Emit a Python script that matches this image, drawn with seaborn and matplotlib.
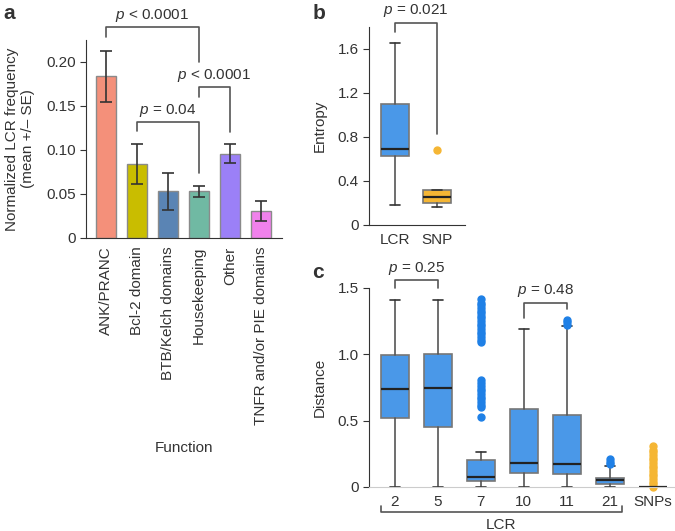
import numpy as np
import matplotlib
matplotlib.use("Agg")
import matplotlib.pyplot as plt
import seaborn as sns

# ---- data ----
functions = ["ANK/PRANC", "Bcl-2 domain", "BTB/Kelch domains",
             "Housekeeping", "Other", "TNFR and/or PIE domains"]
freq = [0.184, 0.084, 0.053, 0.053, 0.096, 0.031]
freq_se = [0.029, 0.023, 0.021, 0.006, 0.011, 0.0115]
bar_colors = ["#F4907A", "#C9BD00", "#5A84B4", "#70B9A3", "#9B80F7", "#F081EC"]

entropy_groups = ["LCR", "SNP"]
entropy_whislo = [0.18, 0.165]
entropy_q1 = [0.627, 0.20]
entropy_med = [0.69, 0.255]
entropy_q3 = [1.10, 0.32]
entropy_whishi = [1.655, 0.32]
entropy_fliers = [[], [0.685]]

dist_groups = ["2", "5", "7", "10", "11", "21", "SNPs"]
dist_whislo = [0, 0, 0, 0, 0, 0, 0]
dist_q1 = [0.52, 0.45, 0.045, 0.105, 0.095, 0.02, 0]
dist_med = [0.74, 0.745, 0.078, 0.18, 0.17, 0.05, 0]
dist_q3 = [0.995, 1.0, 0.20, 0.59, 0.545, 0.07, 0]
dist_whishi = [1.41, 1.41, 0.265, 1.19, 1.21, 0.16, 0]
dist_fliers = [
    [],
    [],
    [0.53, 0.60, 0.62, 0.64, 0.66, 0.68, 0.70, 0.72, 0.74, 0.76, 0.78, 0.81,
     1.09, 1.11, 1.13, 1.15, 1.17, 1.19, 1.21, 1.23, 1.25, 1.27, 1.29,
     1.31, 1.33, 1.35, 1.37, 1.39, 1.42],
    [],
    [1.22, 1.24, 1.26],
    [0.17, 0.19, 0.21],
    [0.0, 0.02, 0.04, 0.06, 0.08, 0.10, 0.12, 0.14, 0.16, 0.18, 0.20,
     0.22, 0.24, 0.26, 0.28, 0.31],
]

BLUE = "#4A98E8"
BLUE_DOT = "#1F80E6"
YELLOW = "#F5B634"
LINE = "#555555"

sns.set_style("ticks")
plt.rcParams["font.family"] = ["Liberation Sans", "DejaVu Sans"]
plt.rcParams["mathtext.fontset"] = "custom"
plt.rcParams["mathtext.it"] = "Liberation Sans:italic"
plt.rcParams["mathtext.rm"] = "Liberation Sans"
plt.rcParams["font.size"] = 11
plt.rcParams["axes.edgecolor"] = "#333333"
plt.rcParams["xtick.color"] = "#333333"
plt.rcParams["ytick.color"] = "#333333"
plt.rcParams["text.color"] = "#333333"
plt.rcParams["axes.labelcolor"] = "#333333"

fig = plt.figure(figsize=(6.75, 5.31), dpi=100)
ax_a = fig.add_axes([0.1274, 0.5518, 0.2904, 0.3729])
ax_b = fig.add_axes([0.5467, 0.5763, 0.1422, 0.3729])
ax_c = fig.add_axes([0.5467, 0.0829, 0.452, 0.3748])


def bracket(ax, x1, x2, top, y1, y2, label, ty):
    ax.plot([x1, x1, x2, x2], [y1, top, top, y2], color=LINE, lw=1.2,
            clip_on=False)
    ax.text((x1 + x2) / 2, ty, label, ha="center", va="center", fontsize=11,
            clip_on=False)


# ---- a: bar chart ----
sns.barplot(x=functions, y=freq, hue=functions, palette=bar_colors,
            legend=False, width=0.65, edgecolor="#8a8a8a", linewidth=1,
            saturation=1, ax=ax_a)
ax_a.errorbar(range(len(functions)), freq, yerr=freq_se, fmt="none",
              ecolor="#333333", elinewidth=1.2, capsize=4, capthick=1.2)
ax_a.set_xlim(-0.65, 5.68)
ax_a.set_ylim(0, 0.225)
ax_a.set_yticks([0, 0.05, 0.10, 0.15, 0.20])
ax_a.set_yticklabels(["0", "0.05", "0.10", "0.15", "0.20"])
ax_a.tick_params(axis="x", length=0, rotation=90, pad=6)
ax_a.tick_params(axis="y", length=4)
ax_a.set_ylabel("Normalized LCR frequency\n(mean +/\u2013 SE)")
ax_a.yaxis.set_label_coords(-0.26, 0.5)
ax_a.set_xlabel("Function")
ax_a.xaxis.set_label_coords(0.5, -1.06)
ax_a.xaxis.label.set_va("center")
sns.despine(ax=ax_a)
bracket(ax_a, 0, 3, 0.240, 0.228, 0.200, "$p$ < 0.0001", 0.253)
bracket(ax_a, 3, 4, 0.1716, 0.160, 0.120, "$p$ < 0.0001", 0.185)
bracket(ax_a, 1, 3, 0.132, 0.122, 0.074, "$p$ = 0.04", 0.145)


# ---- boxplot helper ----
def boxes(ax, whislo, q1, med, q3, whishi, fliers, colors, dot_colors):
    stats = []
    for i in range(len(med)):
        stats.append(dict(whislo=whislo[i], q1=q1[i], med=med[i], q3=q3[i],
                          whishi=whishi[i], fliers=fliers[i]))
    res = ax.bxp(stats, positions=range(len(med)), widths=0.65,
                 patch_artist=True, showfliers=True,
                 boxprops=dict(edgecolor="#777777", linewidth=1.2),
                 medianprops=dict(color="#222222", linewidth=1.6),
                 whiskerprops=dict(color=LINE, linewidth=1.2),
                 capprops=dict(color="#333333", linewidth=1.2),
                 capwidths=0.23)
    for patch, c in zip(res["boxes"], colors):
        patch.set_facecolor(c)
    for fl, c in zip(res["fliers"], dot_colors):
        fl.set(marker="o", markerfacecolor=c, markeredgecolor=c,
               markersize=5, linestyle="none", clip_on=False)
    return res


# ---- b: entropy ----
boxes(ax_b, entropy_whislo, entropy_q1, entropy_med, entropy_q3,
      entropy_whishi, entropy_fliers, [BLUE, YELLOW], [BLUE_DOT, YELLOW])
ax_b.set_xticks(range(len(entropy_groups)))
ax_b.set_xticklabels(entropy_groups)
ax_b.set_xlim(-0.62, 1.67)
ax_b.set_ylim(0, 1.8)
ax_b.set_yticks([0, 0.4, 0.8, 1.2, 1.6])
ax_b.set_yticklabels(["0", "0.4", "0.8", "1.2", "1.6"])
ax_b.tick_params(axis="x", length=0, pad=6)
ax_b.tick_params(axis="y", length=4)
ax_b.set_ylabel("Entropy", labelpad=8)
sns.despine(ax=ax_b)
bracket(ax_b, 0, 1, 1.84, 1.75, 0.83, "$p$ = 0.021", 1.95)

# ---- c: distance ----
boxes(ax_c, dist_whislo, dist_q1, dist_med, dist_q3, dist_whishi,
      dist_fliers, [BLUE] * 6 + [YELLOW], [BLUE_DOT] * 6 + [YELLOW])
ax_c.set_xticks(range(len(dist_groups)))
ax_c.set_xticklabels(dist_groups)
ax_c.set_xlim(-0.6, 6.5)
ax_c.set_ylim(0, 1.5)
ax_c.set_yticks([0, 0.5, 1.0, 1.5])
ax_c.set_yticklabels(["0", "0.5", "1.0", "1.5"])
ax_c.tick_params(axis="x", length=0, pad=6)
ax_c.tick_params(axis="y", length=4)
ax_c.set_ylabel("Distance", labelpad=8)
sns.despine(ax=ax_c)
ax_c.spines["bottom"].set_color("#cccccc")
bracket(ax_c, 0, 1, 1.56, 1.50, 1.50, "$p$ = 0.25", 1.645)
bracket(ax_c, 3, 4, 1.39, 1.27, 1.34, "$p$ = 0.48", 1.48)
# LCR group bracket under the axis
ax_c.plot([-0.33, -0.33, 5.28, 5.28], [-0.145, -0.19, -0.19, -0.145],
          color=LINE, lw=1.2, clip_on=False)
ax_c.text(2.47, -0.29, "LCR", ha="center", va="center", fontsize=11)

# ---- panel letters ----
fig.text(0.005, 0.975, "a", fontsize=15, fontweight="bold", va="center")
fig.text(0.463, 0.975, "b", fontsize=15, fontweight="bold", va="center")
fig.text(0.463, 0.487, "c", fontsize=15, fontweight="bold", va="center")

plt.savefig("out.png", dpi=100)
